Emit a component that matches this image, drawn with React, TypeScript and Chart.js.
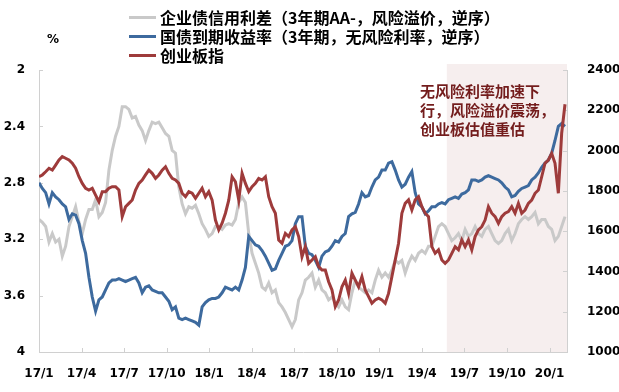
import React, { useEffect, useRef } from 'react';
import { Chart, registerables } from 'chart.js';

Chart.register(...registerables);

// ---------- data ----------
const quarterLabels = ['17/1', '17/4', '17/7', '17/10', '18/1', '18/4', '18/7', '18/10', '19/1', '19/4', '19/7', '19/10', '20/1'];
const pointsPerQuarter = 12.78; // observation index units per quarter
const lastIndex = 158.6;
const shadeStartIndex = 122.5;

const seriesNames = [
  '企业债信用利差（3年期AA-，风险溢价，逆序）',
  '国债到期收益率（3年期，无风险利率，逆序）',
  '创业板指',
];

// left axis (%), reversed
const creditSpread = [
  3.06, 3.08, 3.11, 3.22, 3.16, 3.22, 3.20, 3.32, 3.25, 3.11,
  3.04, 2.97, 3.08, 3.16, 3.06, 2.99, 2.99, 2.92, 3.04, 3.01,
  2.94, 2.71, 2.57, 2.47, 2.40, 2.26, 2.26, 2.28, 2.34, 2.33,
  2.39, 2.43, 2.50, 2.43, 2.37, 2.38, 2.37, 2.41, 2.45, 2.47,
  2.57, 2.59,
  2.83, 2.95, 3.02, 2.97, 2.98, 2.96, 3.02, 3.09, 3.13, 3.18,
  3.16, 3.11, 3.11, 3.13, 3.10, 3.09, 3.10, 3.06, 2.94, 2.90,
  2.94, 3.16, 3.30, 3.37, 3.44, 3.54, 3.56, 3.51, 3.58, 3.56,
  3.65, 3.68, 3.72, 3.77, 3.82, 3.77, 3.63, 3.58, 3.49, 3.47,
  3.44, 3.54, 3.49, 3.56, 3.58, 3.63, 3.61, 3.65, 3.68, 3.63,
  3.68, 3.70, 3.58, 3.49, 3.54, 3.56, 3.58, 3.56, 3.58, 3.49,
  3.42, 3.47, 3.44, 3.47, 3.42, 3.35, 3.37, 3.35, 3.44, 3.37,
  3.32, 3.35, 3.30, 3.28, 3.30, 3.25, 3.25, 3.18, 3.11, 3.09,
  3.11,
  3.16, 3.21, 3.19, 3.16, 3.21, 3.13, 3.18, 3.16, 3.11, 3.16,
  3.18, 3.13, 3.11, 3.16, 3.21, 3.23, 3.21, 3.16, 3.13, 3.21,
  3.16, 3.09, 3.06, 3.04, 3.06, 3.04, 3.01, 3.09, 3.06, 3.06,
  3.11, 3.13, 3.21, 3.18, 3.11, 3.04,
];

const treasuryYield = [
  2.80, 2.84, 2.87, 2.95, 2.87, 2.90, 2.92, 2.95, 2.97, 3.06,
  3.02, 3.03, 3.09, 3.21, 3.30, 3.47, 3.61, 3.71, 3.63, 3.61,
  3.56, 3.51, 3.49, 3.49, 3.48, 3.49, 3.50, 3.49, 3.48, 3.47,
  3.51, 3.58, 3.54, 3.53, 3.56, 3.57, 3.58, 3.58, 3.61, 3.64,
  3.70, 3.68,
  3.76, 3.77, 3.76, 3.77, 3.78, 3.79, 3.81, 3.68, 3.65, 3.63,
  3.62, 3.62, 3.61, 3.58, 3.54, 3.55, 3.56, 3.54, 3.56, 3.49,
  3.40, 3.18, 3.21, 3.24, 3.25, 3.28, 3.32, 3.37, 3.42, 3.41,
  3.35, 3.30, 3.25, 3.24, 3.21, 3.09, 3.04, 3.04, 3.25, 3.30,
  3.31, 3.35, 3.40, 3.32, 3.29, 3.28, 3.25, 3.21, 3.22, 3.18,
  3.16, 3.04, 3.02, 3.01, 2.95, 2.87, 2.90, 2.89, 2.83, 2.78,
  2.76, 2.71, 2.71, 2.66, 2.65, 2.71, 2.78, 2.83, 2.81, 2.76,
  2.72, 2.87, 2.95, 2.97, 3.02, 3.00, 2.97, 2.97, 2.95, 2.94,
  2.95,
  2.92, 2.91, 2.90, 2.91, 2.88, 2.87, 2.85, 2.78, 2.78, 2.79,
  2.78, 2.76, 2.75, 2.76, 2.77, 2.78, 2.80, 2.83, 2.85, 2.90,
  2.89, 2.86, 2.84, 2.83, 2.82, 2.78, 2.76, 2.73, 2.69, 2.66,
  2.64, 2.59, 2.50, 2.40, 2.38, 2.40,
];

// right axis (index points)
const chinext = [
  1870, 1879, 1895, 1912, 1903, 1928, 1953, 1970, 1962, 1953,
  1937, 1912, 1870, 1837, 1813, 1804, 1813, 1779, 1746, 1796,
  1796, 1813, 1821, 1821, 1804, 1672, 1721, 1738, 1755, 1804,
  1837, 1854, 1879, 1903, 1887, 1862, 1879, 1903, 1920, 1887,
  1862, 1854,
  1837, 1788, 1771, 1796, 1788, 1763, 1788, 1813, 1771, 1796,
  1754, 1655, 1606, 1639, 1689, 1754, 1870, 1845, 1754, 1887,
  1837, 1796, 1821, 1837, 1862, 1854, 1870, 1771, 1721, 1689,
  1556, 1540, 1589, 1573, 1606, 1622, 1573, 1473, 1523, 1440,
  1457, 1473, 1424, 1407, 1407, 1349, 1308, 1225, 1258, 1324,
  1357, 1291, 1391, 1357, 1324, 1374, 1308, 1275, 1242, 1258,
  1267, 1258, 1242, 1291, 1374, 1457, 1540, 1689, 1738, 1755,
  1705, 1755, 1771, 1722, 1689, 1672, 1523, 1490, 1507, 1457,
  1440,
  1457, 1490, 1523, 1507, 1556, 1523, 1556, 1507, 1573, 1606,
  1622, 1655, 1721, 1689, 1672, 1639, 1672, 1689, 1697, 1721,
  1689, 1738, 1689, 1705, 1738, 1754, 1788, 1804, 1870, 1937,
  1953, 1986, 1937, 1788, 2086, 2230,
];

const annotationLines = ['无风险利率加速下', '行，风险溢价震荡，', '创业板估值重估'];
const unitLabel = '%';

// ---------- styles ----------
const COLORS = ['#C9C9C9', '#3D6A9E', '#9E3B3B'];
const AXIS_COLOR = '#D0D0D0';
const SHADE_COLOR = '#F6EEEE';
const TICK_FONT = { family: '"DejaVu Sans", sans-serif', size: 12, weight: 'bold' as const };
const CJK = '"Noto Sans CJK SC", sans-serif';

const decorPlugin = {
  id: 'decor',
  beforeDraw(chart: any) {
    const { ctx, chartArea, scales } = chart;
    const x0 = scales.x.getPixelForValue(shadeStartIndex);
    ctx.save();
    ctx.fillStyle = SHADE_COLOR;
    ctx.fillRect(x0, chartArea.top - 6, chartArea.right - x0, chartArea.bottom - chartArea.top + 6);
    ctx.restore();
  },
  beforeDatasetsDraw(chart: any) {
    const { ctx, chartArea, scales } = chart;
    ctx.save();
    ctx.strokeStyle = AXIS_COLOR;
    ctx.lineWidth = 1;
    ctx.beginPath();
    scales.x.ticks.forEach((t: any) => {
      const px = Math.round(scales.x.getPixelForValue(t.value)) + 0.5;
      ctx.moveTo(px, chartArea.bottom);
      ctx.lineTo(px, chartArea.bottom - 4);
    });
    scales.y.ticks.forEach((t: any) => {
      const py = Math.round(scales.y.getPixelForValue(t.value)) + 0.5;
      ctx.moveTo(chartArea.left, py);
      ctx.lineTo(chartArea.left + 4, py);
    });
    scales.y1.ticks.forEach((t: any) => {
      const py = Math.round(scales.y1.getPixelForValue(t.value)) + 0.5;
      ctx.moveTo(chartArea.right, py);
      ctx.lineTo(chartArea.right - 4, py);
    });
    ctx.stroke();
    ctx.restore();
  },
};

const toPoints = (arr: number[]) => arr.map((v, i) => ({ x: i, y: v }));

export default function App() {
  const canvasRef = useRef<HTMLCanvasElement | null>(null);

  useEffect(() => {
    if (!canvasRef.current) return;
    const gridOpts = { display: true, drawOnChartArea: false, drawTicks: false };
    const borderOpts = { display: true, color: AXIS_COLOR, width: 1 };
    const chart = new Chart(canvasRef.current, {
      type: 'line',
      data: {
        datasets: [
          { label: seriesNames[0], data: toPoints(creditSpread), yAxisID: 'y', borderColor: COLORS[0], backgroundColor: COLORS[0], borderWidth: 3, pointRadius: 0, order: 3 },
          { label: seriesNames[1], data: toPoints(treasuryYield), yAxisID: 'y', borderColor: COLORS[1], backgroundColor: COLORS[1], borderWidth: 3, pointRadius: 0, order: 2 },
          { label: seriesNames[2], data: toPoints(chinext), yAxisID: 'y1', borderColor: COLORS[2], backgroundColor: COLORS[2], borderWidth: 3, pointRadius: 0, order: 1 },
        ],
      },
      options: {
        animation: false,
        responsive: false,
        devicePixelRatio: 1,
        layout: { padding: { top: 70, left: 0, right: 0, bottom: 0 } },
        plugins: { legend: { display: false }, tooltip: { enabled: false } },
        scales: {
          x: {
            type: 'linear',
            min: 0,
            max: lastIndex,
            afterBuildTicks: (s: any) => {
              s.ticks = quarterLabels.map((_, q) => ({ value: q * pointsPerQuarter }));
            },
            afterFit: (s: any) => { s.height = 40; },
            grid: gridOpts,
            border: borderOpts,
            ticks: {
              callback: (_v: any, i: number) => quarterLabels[i],
              autoSkip: false,
              maxRotation: 0,
              padding: 15,
              color: '#000',
              font: TICK_FONT,
            },
          },
          y: {
            position: 'left',
            reverse: true,
            min: 2,
            max: 4,
            afterFit: (s: any) => { s.width = 39; },
            grid: gridOpts,
            border: borderOpts,
            ticks: {
              stepSize: 0.4,
              callback: (v: any) => String(Math.round(Number(v) * 10) / 10),
              padding: 14,
              color: '#000',
              font: TICK_FONT,
            },
          },
          y1: {
            position: 'right',
            min: 1000,
            max: 2400,
            afterFit: (s: any) => { s.width = 52; },
            grid: gridOpts,
            border: borderOpts,
            ticks: {
              stepSize: 200,
              callback: (v: any) => String(v),
              padding: 20,
              color: '#000',
              font: TICK_FONT,
            },
          },
        },
      } as any,
      plugins: [decorPlugin],
    });
    return () => chart.destroy();
  }, []);

  return (
    <div style={{ position: 'fixed', left: 0, top: 0, width: 619, height: 392, background: '#fff', overflow: 'hidden' }}>
      <canvas ref={canvasRef} width={619} height={392} style={{ position: 'absolute', left: 0, top: 0, width: 619, height: 392 }} />
      <div style={{ position: 'absolute', left: 129, top: 8, fontFamily: CJK, fontWeight: 700, fontSize: 16, color: '#000' }}>
        {seriesNames.map((name, i) => (
          <div key={name} style={{ display: 'flex', alignItems: 'center', height: 19, whiteSpace: 'nowrap' }}>
            <span style={{ display: 'inline-block', width: 27, height: 3, background: COLORS[i], marginRight: 4 }} />
            <span style={{ lineHeight: '19px' }}>{name}</span>
          </div>
        ))}
      </div>
      <div style={{ position: 'absolute', left: 47, top: 32, fontFamily: '"DejaVu Sans", sans-serif', fontWeight: 700, fontSize: 12, color: '#000' }}>
        {unitLabel}
      </div>
      <div style={{ position: 'absolute', left: 420, top: 81, fontFamily: CJK, fontWeight: 700, fontSize: 15, lineHeight: '19px', color: '#731C1C', whiteSpace: 'nowrap' }}>
        {annotationLines.map((l) => (
          <div key={l}>{l}</div>
        ))}
      </div>
    </div>
  );
}
